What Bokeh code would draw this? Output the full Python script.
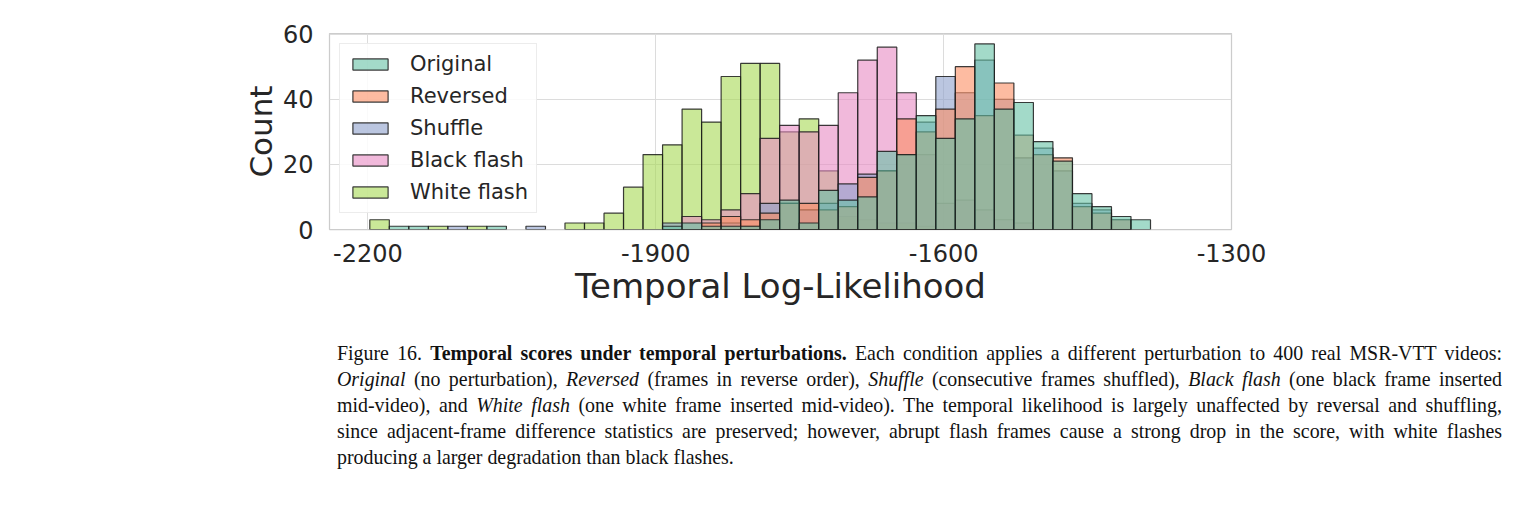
from bokeh.plotting import figure
from bokeh.models import Range1d, Legend, LegendItem, FixedTicker, Div, ColumnDataSource
from bokeh.layouts import column
from bokeh.embed import file_html
from bokeh.resources import INLINE

# ---------------- data ----------------
bin_start = -2198.0
bin_width = 20.34
n_bins = 40

series_names = ["Original", "Reversed", "Shuffle", "Black flash", "White flash"]
series_colors = ["#66c2a5", "#fc8d62", "#8da0cb", "#e78ac3", "#a6d854"]

#              0  1  2  3  4  5  6  7  8  9 10 11 12 13 14 15 16 17 18 19 20 21 22 23 24 25 26 27 28 29 30 31 32 33 34 35 36 37 38 39
original    = [0, 1, 1, 0, 0, 0, 1, 0, 0, 0, 0, 0, 0, 0, 0, 1, 2, 1, 1, 1, 3, 9, 2,12, 9,10,24,23,35,28,34,57,37,39,27,21,11, 7, 4, 3]
reversed_   = [0, 0, 0, 0, 0, 0, 0, 0, 0, 0, 0, 0, 0, 0, 0, 0, 0, 2, 4, 3, 5, 8, 8, 6, 7,16,18,34,30,37,50,35,45,29,23,22, 7, 5, 3, 0]
shuffle     = [0, 0, 0, 0, 1, 0, 0, 0, 1, 0, 0, 0, 0, 0, 0, 2, 0, 0, 2, 1, 8, 8, 6, 8,14,17,18,23,33,47,42,52,40,22,25,18, 8, 6, 3, 0]
black_flash = [0, 0, 0, 0, 0, 0, 0, 0, 0, 0, 0, 0, 0, 0, 0, 0, 4, 3, 6,11,28,32,30,32,42,52,56,42,23, 8, 9, 6, 3, 2, 0, 0, 0, 0, 0, 0]
white_flash = [3, 0, 0, 1, 0, 1, 0, 0, 0, 0, 2, 2, 5,13,23,26,37,33,47,51,51,30,34,18, 4, 3, 2, 2, 1, 0, 0, 0, 0, 0, 0, 0, 0, 0, 0, 0]

x_ticks = [-2200, -1900, -1600, -1300]
x_tick_labels = ["-2200", "-1900", "-1600", "-1300"]
y_ticks = [0, 20, 40, 60]
x_label = "Temporal Log-Likelihood"
y_label = "Count"

caption_lines = [
    "Figure 16. <b>Temporal scores under temporal perturbations.</b> Each condition applies a different "
    "perturbation to 400 real MSR-VTT videos:",
    "<i>Original</i> (no perturbation), <i>Reversed</i> (frames in reverse order), <i>Shuffle</i> "
    "(consecutive frames shuffled), <i>Black flash</i> (one black frame inserted",
    "mid-video), and <i>White flash</i> (one white frame inserted mid-video). The temporal likelihood is "
    "largely unaffected by reversal and shuffling,",
    "since adjacent-frame difference statistics are preserved; however, abrupt flash frames cause a strong "
    "drop in the score, with white flashes",
    "producing a larger degradation than black flashes.",
]

all_counts = [original, reversed_, shuffle, black_flash, white_flash]

# ---------------- figure ----------------
FONT = "DejaVu Sans"
TXT = "#262626"

p = figure(width=1516, height=340, output_backend="svg", toolbar_location=None,
           x_range=Range1d(-2240, -1300), y_range=Range1d(0, 60.2),
           min_border_left=329, min_border_right=285, min_border_top=33, min_border_bottom=111)
p.background_fill_color = "white"
p.border_fill_color = "white"
p.outline_line_color = "#cccccc"
p.outline_line_width = 1.25

for ax in (p.xaxis[0], p.yaxis[0]):
    ax.axis_line_color = None
    ax.major_tick_line_color = None
    ax.minor_tick_line_color = None
    ax.major_label_text_font = FONT
    ax.major_label_text_font_size = "24px"
    ax.major_label_text_color = TXT
    ax.axis_label_text_font = FONT
    ax.axis_label_text_font_style = "normal"
    ax.axis_label_text_color = TXT

p.xaxis[0].axis_label_text_font_size = "34px"
p.yaxis[0].axis_label_text_font_size = "31px"
p.xaxis[0].ticker = FixedTicker(ticks=x_ticks)
p.xaxis[0].major_label_overrides = {t: s for t, s in zip(x_ticks, x_tick_labels)}
p.yaxis[0].ticker = FixedTicker(ticks=y_ticks)
p.xaxis[0].axis_label = x_label
p.yaxis[0].axis_label = y_label
p.xaxis[0].major_label_standoff = 8
p.yaxis[0].major_label_standoff = 10
p.xaxis[0].axis_label_standoff = 1
p.yaxis[0].axis_label_standoff = 1

p.xgrid.ticker = FixedTicker(ticks=x_ticks)
p.ygrid.ticker = FixedTicker(ticks=y_ticks)
p.grid.grid_line_color = "#dcdcdc"
p.grid.grid_line_width = 1

renderers = {}
draw_order = [4, 3, 2, 1, 0]
for i in draw_order:
    counts = all_counts[i]
    lefts, rights, tops = [], [], []
    for k, c in enumerate(counts):
        if c > 0:
            lefts.append(bin_start + k * bin_width)
            rights.append(bin_start + (k + 1) * bin_width)
            tops.append(c)
    src = ColumnDataSource(dict(left=lefts, right=rights, top=tops, bottom=[0] * len(tops)))
    r = p.quad(left="left", right="right", top="top", bottom="bottom", source=src,
               fill_color=series_colors[i], fill_alpha=0.6,
               line_color="#1a1a1a", line_alpha=0.85, line_width=1.2)
    renderers[i] = r

items = [LegendItem(label=series_names[i], renderers=[renderers[i]]) for i in range(5)]
legend = Legend(items=items, location=(10, 16), orientation="vertical")
legend.label_text_font = FONT
legend.label_text_font_size = "21px"
legend.label_text_color = TXT
legend.glyph_width = 44
legend.glyph_height = 14
legend.label_standoff = 18
legend.spacing = 8
legend.padding = 8
legend.margin = 0
legend.border_line_color = "#d9d9d9"
legend.border_line_width = 1
legend.background_fill_color = "white"
legend.background_fill_alpha = 0.85
p.add_layout(legend, "center")

line_style_mid = "display:block;width:1165px;white-space:nowrap;text-align:justify;text-align-last:justify;"
line_style_last = "display:block;width:1165px;white-space:nowrap;text-align:left;"
html = "".join(
    '<span style="%s">%s</span>' % (line_style_last if j == len(caption_lines) - 1 else line_style_mid, ln)
    for j, ln in enumerate(caption_lines)
)
caption = Div(text=html, width=1170,
              styles={"font-family": "'Liberation Serif', 'Times New Roman', serif",
                      "font-size": "19.9px", "line-height": "26px",
                      "color": "#111111"})
caption.margin = (0, 0, 0, 337)

layout = column(p, caption, spacing=0)
open("out.html", "w").write(file_html(layout, INLINE))
